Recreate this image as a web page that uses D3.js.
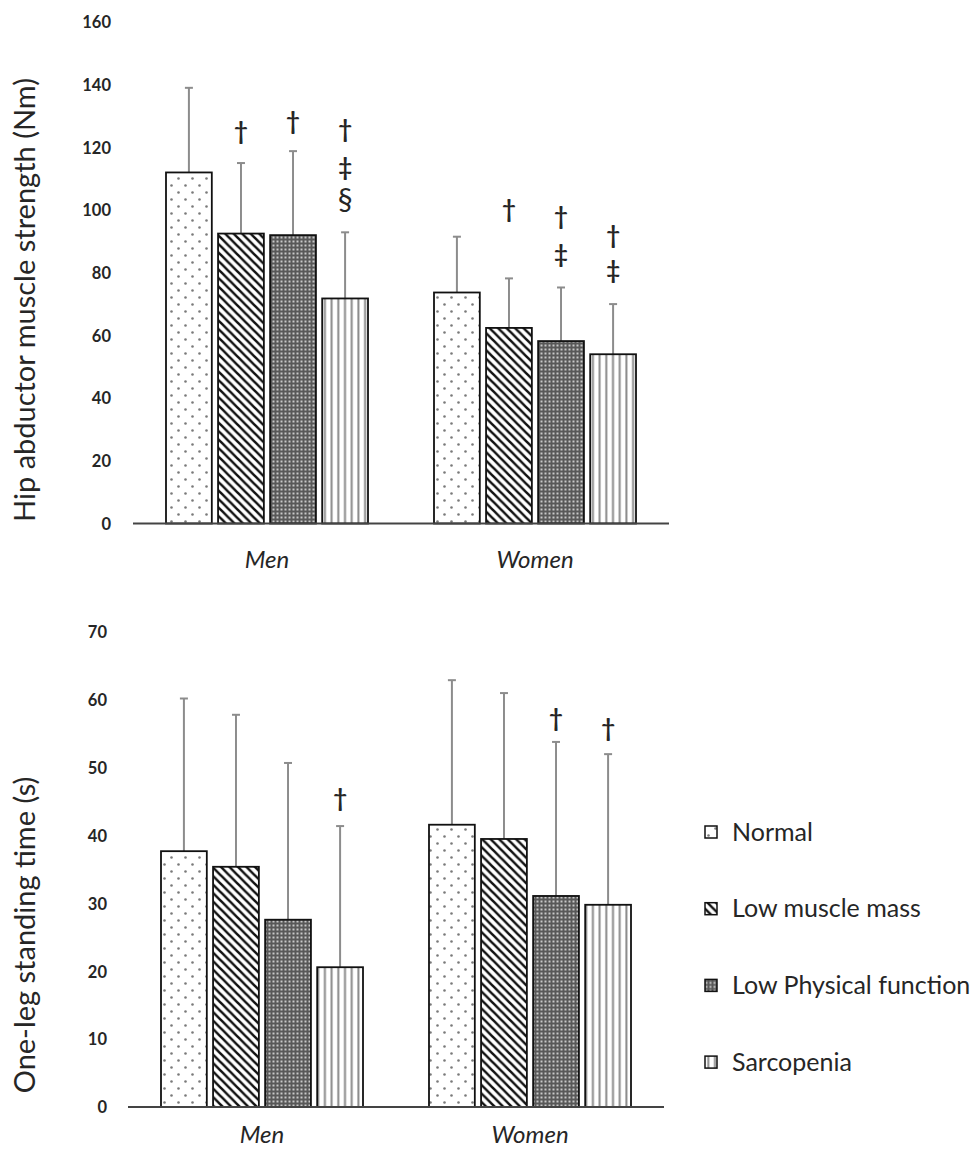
<!DOCTYPE html>
<html><head><meta charset="utf-8">
<script src="https://cdn.jsdelivr.net/npm/d3@7"></script>
<style>
html,body{margin:0;padding:0;background:#fff;}
svg{display:block;}
text{font-family:Lato,"Open Sans",sans-serif;fill:#262626;}
</style></head>
<body>
<script>
// ---- data ----
const groups = ["Men", "Women"];
const series = ["Normal", "Low muscle mass", "Low Physical function", "Sarcopenia"];

const hipTicks = [0, 20, 40, 60, 80, 100, 120, 140, 160];
const hipMean = [[112, 92.5, 92, 71.8], [73.7, 62.4, 58.2, 54]];
const hipSD   = [[27, 22.5, 26.8, 21.1], [17.8, 15.8, 17.1, 16]];
// significance marks: [groupIndex, seriesIndex, symbol, value-level]
const hipMarks = [
  [0, 1, "†", 125], [0, 2, "†", 128.3],
  [0, 3, "†", 125.7], [0, 3, "‡", 113.6], [0, 3, "§", 103.4],
  [1, 1, "†", 100.2], [1, 2, "†", 97.9], [1, 2, "‡", 85.8],
  [1, 3, "†", 91.8], [1, 3, "‡", 80.6]
];

const olsTicks = [0, 10, 20, 30, 40, 50, 60, 70];
const olsMean = [[37.7, 35.4, 27.6, 20.6], [41.6, 39.5, 31.1, 29.8]];
const olsSD   = [[22.5, 22.4, 23.1, 20.8], [21.3, 21.5, 22.7, 22.2]];
const olsMarks = [[0, 3, "†", 45.4], [1, 2, "†", 57.3], [1, 3, "†", 55.8]];

const W = 973, H = 1151;
const svg = d3.select("body").append("svg").attr("width", W).attr("height", H);
const defs = svg.append("defs");

// ---- patterns ----
const pNormal = defs.append("pattern").attr("id", "pat0").attr("patternUnits", "userSpaceOnUse")
  .attr("width", 14).attr("height", 14);
pNormal.append("rect").attr("width", 14).attr("height", 14).attr("fill", "#fff");
pNormal.append("circle").attr("cx", 3.5).attr("cy", 3.5).attr("r", 1.3).attr("fill", "#7a7a7a");
pNormal.append("circle").attr("cx", 10.5).attr("cy", 10.5).attr("r", 1.3).attr("fill", "#7a7a7a");

const pDiag = defs.append("pattern").attr("id", "pat1").attr("patternUnits", "userSpaceOnUse")
  .attr("width", 8.5).attr("height", 8.5);
pDiag.append("rect").attr("width", 8.5).attr("height", 8.5).attr("fill", "#fff");
pDiag.append("path").attr("d", "M-2,-2L10.5,10.5M-2,6.5L2,10.5M6.5,-2L10.5,2")
  .attr("stroke", "#111").attr("stroke-width", 2.5);

const pGrid = defs.append("pattern").attr("id", "pat2").attr("patternUnits", "userSpaceOnUse")
  .attr("width", 4).attr("height", 4);
pGrid.append("rect").attr("width", 4).attr("height", 4).attr("fill", "#585858");
pGrid.append("rect").attr("x", 0.5).attr("y", 0.5).attr("width", 2).attr("height", 2).attr("fill", "#c8c8c8");

const pVert = defs.append("pattern").attr("id", "pat3").attr("patternUnits", "userSpaceOnUse")
  .attr("width", 6.7).attr("height", 10);
pVert.append("rect").attr("width", 6.7).attr("height", 10).attr("fill", "#fff");
pVert.append("rect").attr("x", 2.3).attr("width", 2).attr("height", 10).attr("fill", "#8a8a8a");

const fills = series.map((s, i) => `url(#pat${i})`);

function drawChart(cfg) {
  const g = svg.append("g");
  const x0 = d3.scaleBand().domain(groups).range([cfg.x0, cfg.x1]);
  const inner = d3.scaleBand().domain(series).range([33, 235]).paddingInner(0.12);
  const y = d3.scaleLinear().domain([0, cfg.max]).range([cfg.yBottom, cfg.yTop]);

  // tick labels
  const ax = g.append("g").attr("transform", `translate(${cfg.labelX},0)`)
    .call(d3.axisLeft(y).tickValues(cfg.ticks).tickSize(0).tickPadding(0));
  ax.select(".domain").remove();
  ax.selectAll("text").attr("font-family", "Lato").attr("font-weight", 700)
    .attr("font-size", 16.5).attr("fill", "#333").attr("dy", "0.35em");

  // axis title
  g.append("text").attr("transform", `translate(35,${cfg.titleY}) rotate(-90)`)
    .attr("text-anchor", "middle").attr("font-size", cfg.titleSize).attr("fill", "#222")
    .text(cfg.title);

  // bars
  const rows = [];
  groups.forEach((grp, gi) => series.forEach((s, si) => rows.push({grp, s, si, m: cfg.mean[gi][si], sd: cfg.sd[gi][si]})));
  const bx = d => x0(d.grp) + inner(d.s);

  // error bars
  g.selectAll("line.err").data(rows).enter().append("line")
    .attr("x1", d => bx(d) + inner.bandwidth() / 2).attr("x2", d => bx(d) + inner.bandwidth() / 2)
    .attr("y1", d => y(d.m)).attr("y2", d => y(d.m + d.sd))
    .attr("stroke", "#8c8c8c").attr("stroke-width", 2);
  g.selectAll("line.cap").data(rows).enter().append("line")
    .attr("x1", d => bx(d) + inner.bandwidth() / 2 - 4).attr("x2", d => bx(d) + inner.bandwidth() / 2 + 4)
    .attr("y1", d => y(d.m + d.sd)).attr("y2", d => y(d.m + d.sd))
    .attr("stroke", "#8c8c8c").attr("stroke-width", 2);

  g.selectAll("rect.bar").data(rows).enter().append("rect")
    .attr("x", bx).attr("width", inner.bandwidth())
    .attr("y", d => y(d.m)).attr("height", d => y(0) - y(d.m))
    .attr("fill", d => fills[d.si]).attr("stroke", "#111").attr("stroke-width", 1.8);

  // x axis line
  g.append("line").attr("x1", cfg.x0).attr("x2", cfg.x1)
    .attr("y1", y(0)).attr("y2", y(0)).attr("stroke", "#444").attr("stroke-width", 1.8);

  // category labels
  g.selectAll("text.cat").data(groups).enter().append("text")
    .attr("x", d => x0(d) + x0.bandwidth() / 2).attr("y", cfg.catY)
    .attr("text-anchor", "middle").attr("font-style", "italic").attr("font-size", 24)
    .attr("fill", "#222").text(d => d);

  // significance marks
  g.selectAll("text.mark").data(cfg.marks).enter().append("text")
    .attr("x", d => x0(groups[d[0]]) + inner(series[d[1]]) + inner.bandwidth() / 2)
    .attr("y", d => y(d[3])).attr("dy", "0.35em")
    .attr("text-anchor", "middle")
    .attr("font-size", d => d[2] === "§" ? 30 : 24)
    .attr("font-weight", d => d[2] === "§" ? 400 : 700)
    .attr("fill", "#111")
    .text(d => d[2]);
}

drawChart({title: "Hip abductor muscle strength (Nm)", titleY: 300, titleSize: 29,
  ticks: hipTicks, max: 160, mean: hipMean, sd: hipSD, marks: hipMarks,
  x0: 133, x1: 669, yBottom: 523.5, yTop: 22, labelX: 111, catY: 568});

drawChart({title: "One-leg standing time (s)", titleY: 935, titleSize: 29,
  ticks: olsTicks, max: 70, mean: olsMean, sd: olsSD, marks: olsMarks,
  x0: 128, x1: 664, yBottom: 1107, yTop: 632, labelX: 107, catY: 1143});

// legend
const lg = svg.append("g").attr("transform", "translate(705,832)");
const li = lg.selectAll("g").data(series).enter().append("g")
  .attr("transform", (d, i) => `translate(0,${i * 76.7})`);
li.append("rect").attr("x", 0).attr("y", -6).attr("width", 12).attr("height", 12)
  .attr("fill", (d, i) => fills[i]).attr("stroke", "#111").attr("stroke-width", 1.5);
li.append("text").attr("x", 27).attr("y", 0).attr("dy", "0.35em")
  .attr("font-size", 25).attr("fill", "#333").text(d => d);
</script>
</body></html>
